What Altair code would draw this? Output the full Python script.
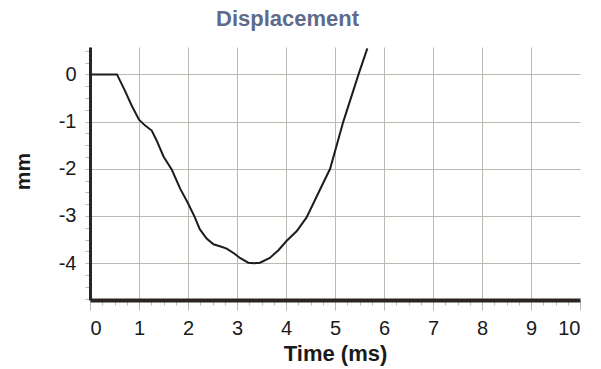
import altair as alt
import pandas as pd

# Displacement trace (time in ms, displacement in mm)
time_ms = [0.0, 0.55, 0.71, 0.85, 1.0, 1.12, 1.26, 1.36, 1.5, 1.67, 1.84, 2.0,
           2.14, 2.24, 2.38, 2.52, 2.65, 2.79, 2.95, 3.06, 3.23, 3.35, 3.47,
           3.67, 3.85, 4.01, 4.22, 4.42, 4.69, 4.9, 5.17, 5.48, 5.66]
disp_mm = [0.0, 0.0, -0.34, -0.66, -0.96, -1.08, -1.19, -1.4, -1.74, -2.02,
           -2.42, -2.73, -3.03, -3.28, -3.48, -3.6, -3.64, -3.69, -3.8, -3.89,
           -3.99, -4.0, -3.99, -3.89, -3.72, -3.53, -3.32, -3.03, -2.45, -2.0,
           -1.0, 0.0, 0.55]

# Axis tick positions: majors every unit, minors every quarter
x_ticks = [i * 0.25 for i in range(0, 41)]
y_ticks = [-4.75 + i * 0.25 for i in range(0, 22)]

x_domain = [0, 10]
y_domain = [-4.78, 0.58]

FONT = "Liberation Sans, Arial, sans-serif"
GRID = "#b5bdb2"
AXIS_DARK = "#2a2422"

df = pd.DataFrame({"t": time_ms, "d": disp_mm})

major = "datum.value % 1 == 0"

x_axis = alt.Axis(
    values=x_ticks,
    labelExpr=f"{major} ? '' + datum.value : ''",
    labelOverlap=False,
    labelFont=FONT,
    labelFontSize=20,
    labelColor="#1a1a1a",
    labelPadding=8,
    tickColor=GRID,
    tickSize={"condition": {"test": major, "value": 10}, "value": 5},
    domainColor=AXIS_DARK,
    domainWidth=4,
    grid=True,
    gridColor=GRID,
    gridWidth=1,
    gridOpacity={"condition": {"test": f"{major} && datum.value > 0 && datum.value < 10", "value": 1}, "value": 0},
    title="Time (ms)",
    titleFont=FONT,
    titleFontSize=22,
    titleFontWeight="bold",
    titleColor="#1a1a1a",
    titleX=245,
    titleY=60,
    titleBaseline="alphabetic",
    titleAlign="center",
)

y_axis = alt.Axis(
    values=y_ticks,
    labelExpr=f"{major} ? '' + datum.value : ''",
    labelOverlap=False,
    labelFont=FONT,
    labelFontSize=20,
    labelColor="#1a1a1a",
    labelPadding=9,
    tickColor=GRID,
    tickSize=5,
    domainColor=AXIS_DARK,
    domainWidth=3,
    grid=True,
    gridColor=GRID,
    gridWidth=1,
    gridOpacity={"condition": {"test": major, "value": 1}, "value": 0},
    title="mm",
    titleFont=FONT,
    titleFontSize=21,
    titleFontWeight="bold",
    titleColor="#1a1a1a",
    titleX=-67,
    titleY=124,
    titleAngle=270,
    titleAlign="center",
    titleBaseline="middle",
)

chart = (
    alt.Chart(df)
    .mark_line(color="#1c1c1c", strokeWidth=2)
    .encode(
        x=alt.X("t:Q", scale=alt.Scale(domain=x_domain, nice=False), axis=x_axis),
        y=alt.Y("d:Q", scale=alt.Scale(domain=y_domain, nice=False, zero=False), axis=y_axis),
        order="t:Q",
    )
    .properties(
        width=490,
        height=253,
        title=alt.TitleParams(
            "Displacement",
            anchor="start",
            dx=204,
            dy=7,
            offset=0,
            baseline="alphabetic",
            font=FONT,
            fontSize=22,
            fontWeight="bold",
            color="#606a8c",
        ),
        autosize=alt.AutoSizeParams(type="none"),
        padding={"left": 90, "top": 47, "right": 21, "bottom": 69},
        background="white",
    )
    .configure_view(stroke=None)
)

chart.save("out.html", embed_options={"renderer": "svg", "actions": False})
